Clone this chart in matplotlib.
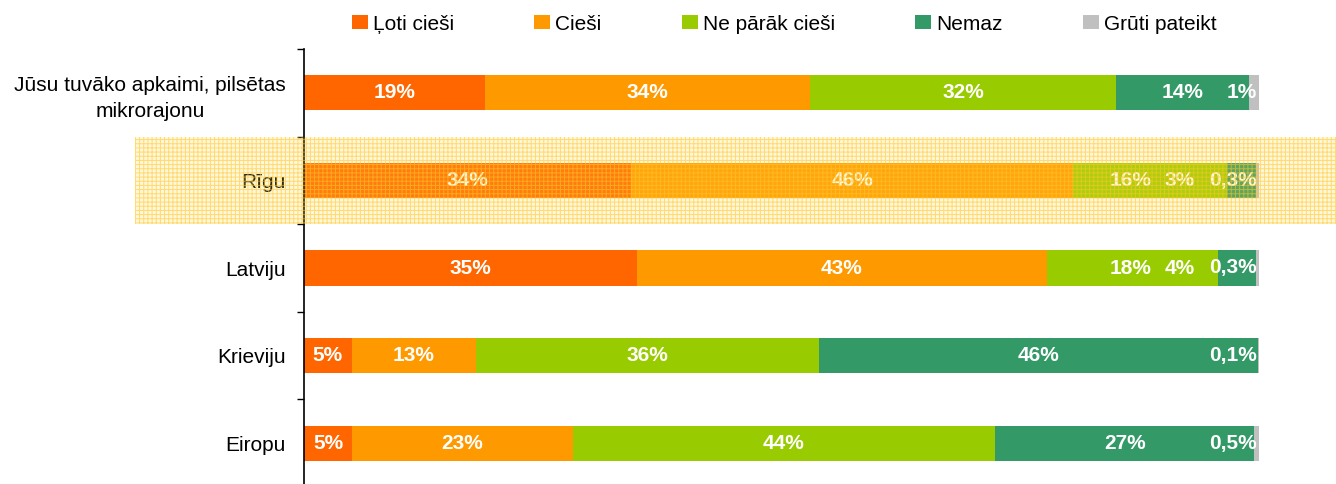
import numpy as np
import matplotlib
matplotlib.use("Agg")
from matplotlib import pyplot as plt
from matplotlib.patches import Rectangle
from matplotlib.transforms import blended_transform_factory

plt.rcParams["font.family"] = ["Liberation Sans", "DejaVu Sans"]
plt.rcParams["hatch.linewidth"] = 0.7

categories = ["Jūsu tuvāko apkaimi, pilsētas\nmikrorajonu", "Rīgu", "Latviju", "Krieviju", "Eiropu"]
series = ["Ļoti cieši", "Cieši", "Ne pārāk cieši", "Nemaz", "Grūti pateikt"]
loti_ciesi = [19, 34, 35, 5, 5]
ciesi = [34, 46, 43, 13, 23]
ne_parak_ciesi = [32, 16, 18, 36, 44]
nemaz = [14, 3, 4, 46, 27]
gruti_pateikt = [1, 0.3, 0.3, 0.1, 0.5]
colors = ["#FF6600", "#FF9900", "#99CC00", "#339966", "#C0C0C0"]
highlighted = "Rīgu"


def fmt(v):
    if v < 1:
        return f"{v:.1f}%".replace(".", ",")
    return f"{v:.0f}%"


values = np.array([loti_ciesi, ciesi, ne_parak_ciesi, nemaz, gruti_pateikt], dtype=float).T
# 100% stacked: each row is scaled to its own total
shares = values / values.sum(axis=1, keepdims=True) * 100

fig = plt.figure(figsize=(13.36, 4.84), dpi=100)
ax = fig.add_axes([304 / 1336, -3 / 484, 955 / 1336, 438 / 484])

y = np.arange(len(categories))
left = np.zeros(len(categories))
for i, name in enumerate(series):
    ax.barh(y, shares[:, i], left=left, height=0.4, color=colors[i], label=name)
    for row in range(len(categories)):
        v = values[row, i]
        x, ha = left[row] + shares[row, i] / 2, "center"
        if i == 4:
            # smallest segment: label pushed to the end of the bar
            x, ha = 99.8, "right"
        elif i == 3 and v < 5:
            x, ha = 93.3, "right"
        elif i == 2 and values[row, 3] < 5:
            # keep clear of the shifted "Nemaz" label
            x = min(x, 86.5)
        ax.text(x, row, fmt(v), ha=ha, va="center", color="white",
                fontsize=15, fontweight="bold")
    left += shares[:, i]

ax.set_xlim(0, 100)
ax.set_ylim(len(categories) - 0.5, -0.5)
ax.set_xticks([])
ax.set_yticks(y)
ax.set_yticklabels(categories, fontsize=15, multialignment="center", linespacing=1.45)
ax.set_yticks(np.arange(len(categories) + 1) - 0.5, minor=True)
ax.tick_params(axis="y", which="major", length=0, pad=13)
ax.tick_params(axis="y", which="minor", length=5, width=1, direction="out")
for side in ["top", "right", "bottom"]:
    ax.spines[side].set_visible(False)
ax.spines["left"].set_linewidth(1.2)

fig.legend(loc="center", bbox_to_anchor=(784 / 1336, 1 - 24 / 484), ncol=5,
           frameon=False, fontsize=15, handlelength=0.77, handleheight=0.67,
           handletextpad=0.24, columnspacing=3.85)

# Highlight band over the selected row
k = categories.index(highlighted)
trans = blended_transform_factory(fig.transFigure, ax.transData)
band = Rectangle((135 / 1336, k - 0.5), 1 - 135 / 1336, 1.0, transform=trans,
                 facecolor=(1.0, 0.85, 0.3, 0.2), edgecolor=(1.0, 0.78, 0.15, 0.6),
                 hatch="++++", linewidth=0, zorder=5)
fig.add_artist(band)

fig.savefig("out.png", dpi=100)
